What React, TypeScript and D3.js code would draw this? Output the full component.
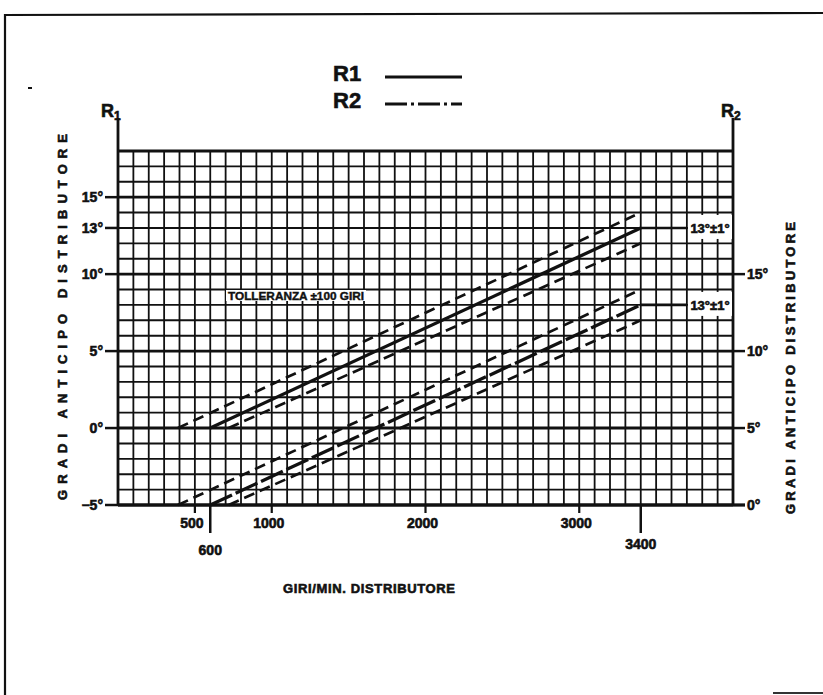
import React from "react";
import * as d3 from "d3";

// ---- data ----
const rpmTicks = [500, 1000, 2000, 3000];
const rpmLongTicks = [600, 3400];
const r1Ticks = [-5, 0, 5, 10, 13, 15];
const r2Ticks = [0, 5, 10, 15];
// R1 curves (degrees on R1 axis)
const r1Center: [number, number][] = [[600, 0], [3400, 13]];
const r1Upper: [number, number][] = [[390, 0], [3400, 14]];
const r1Lower: [number, number][] = [[720, 0], [3400, 12]];
const r1Leader: [number, number][] = [[3400, 13], [3700, 13]];
// R2 curves (degrees on R2 axis)
const r2Center: [number, number][] = [[600, 0], [3400, 13]];
const r2Upper: [number, number][] = [[390, 0], [3400, 14]];
const r2Lower: [number, number][] = [[720, 0], [3400, 12]];
const r2Leader: [number, number][] = [[3400, 13], [3700, 13]];
const r1Label = "13°±1°";
const r2Label = "13°±1°";

const FONT = "'Liberation Sans', Arial, sans-serif";
const INK = "#111";

export default function App() {
  const x = d3.scaleLinear().domain([0, 4000]).range([118, 733]);
  const y1 = d3.scaleLinear().domain([-5, 18]).range([505, 151]);
  const y2 = d3.scaleLinear().domain([0, 23]).range([505, 151]);

  const l1 = d3.line<[number, number]>().x(d => x(d[0])).y(d => y1(d[1]));
  const l2 = d3.line<[number, number]>().x(d => x(d[0])).y(d => y2(d[1]));

  const vLines = d3.range(0, 4001, 100);
  const hLines = d3.range(-5, 19, 1);

  const heavy = { stroke: INK, strokeWidth: 0.6, fill: INK } as const;

  return (
    <svg width={823} height={695} style={{ position: "absolute", left: 0, top: 0, background: "#fff" }}
      fontFamily={FONT}>
      <rect width={823} height={695} fill="#fff" />
      {/* frame */}
      <path d="M5,695 L5,15 L823,13" fill="none" stroke={INK} strokeWidth={2.2} />
      <line x1={773} y1={693} x2={823} y2={693} stroke="#333" strokeWidth={2} />
      <line x1={28} y1={88} x2={32} y2={88} stroke={INK} strokeWidth={2} />

      {/* legend */}
      <text x={333} y={81} fontSize={22} fontWeight="bold" {...heavy}>R1</text>
      <line x1={385} y1={77} x2={462} y2={77} stroke={INK} strokeWidth={3} />
      <text x={333} y={108} fontSize={22} fontWeight="bold" {...heavy}>R2</text>
      <line x1={385} y1={104} x2={462} y2={104} stroke={INK} strokeWidth={3} strokeDasharray="22,4,3,4" />

      {/* grid */}
      {vLines.map(v => (
        <line key={"v" + v} x1={x(v)} x2={x(v)} y1={y1(18)} y2={y1(-5)} stroke={INK}
          strokeWidth={1.8} />
      ))}
      {hLines.map(h => (
        <line key={"h" + h} x1={x(0)} x2={x(4000)} y1={y1(h)} y2={y1(h)} stroke={INK}
          strokeWidth={h % 5 === 0 || h === 18 ? 2.9 : 1.9} />
      ))}

      {/* axes */}
      <line x1={x(0)} x2={x(0)} y1={118} y2={y1(-5)} stroke={INK} strokeWidth={2.8} />
      <line x1={x(4000)} x2={x(4000)} y1={118} y2={y1(-5)} stroke={INK} strokeWidth={2.8} />
      <line x1={x(0)} x2={745} y1={y1(-5)} y2={y1(-5)} stroke={INK} strokeWidth={2.8} />

      {/* left ticks */}
      {r1Ticks.map(t => (
        <g key={"l" + t}>
          <line x1={105} x2={x(0)} y1={y1(t)} y2={y1(t)} stroke={INK} strokeWidth={2.5} />
          <text x={103} y={y1(t) + 5} textAnchor="end" fontSize={14} fontWeight="bold" {...heavy}>
            {t < 0 ? "−" + Math.abs(t) + "°" : t + "°"}
          </text>
        </g>
      ))}
      {/* right ticks */}
      {r2Ticks.map(t => (
        <g key={"r" + t}>
          <line x1={x(4000)} x2={745} y1={y2(t)} y2={y2(t)} stroke={INK} strokeWidth={2.5} />
          <text x={747} y={y2(t) + 5} textAnchor="start" fontSize={14} fontWeight="bold" {...heavy}>
            {t + "°"}
          </text>
        </g>
      ))}

      {/* bottom ticks */}
      {rpmTicks.map(t => (
        <g key={"b" + t}>
          <line x1={x(t)} x2={x(t)} y1={y1(-5)} y2={y1(-5) + 8} stroke={INK} strokeWidth={2.2} />
          <text x={x(t) - 3} y={y1(-5) + 23} textAnchor="middle" fontSize={14} fontWeight="bold" {...heavy}>{t}</text>
        </g>
      ))}
      {rpmLongTicks.map(t => (
        <g key={"bl" + t}>
          <line x1={x(t)} x2={x(t)} y1={y1(-5)} y2={y1(-5) + 28} stroke={INK} strokeWidth={2.5} />
          <text x={x(t)} y={y1(-5) + (t === 600 ? 50 : 44)} textAnchor="middle" fontSize={14} fontWeight="bold" {...heavy}>{t}</text>
        </g>
      ))}

      {/* curves R1 */}
      <path d={l1(r1Upper)!} fill="none" stroke={INK} strokeWidth={2.7} strokeDasharray="11,6" />
      <path d={l1(r1Lower)!} fill="none" stroke={INK} strokeWidth={2.7} strokeDasharray="11,6" />
      <path d={l1(r1Center)!} fill="none" stroke={INK} strokeWidth={3.3} />
      <path d={l1(r1Leader)!} fill="none" stroke={INK} strokeWidth={2.6} />
      {/* curves R2 */}
      <path d={l2(r2Upper)!} fill="none" stroke={INK} strokeWidth={2.7} strokeDasharray="11,6" />
      <path d={l2(r2Lower)!} fill="none" stroke={INK} strokeWidth={2.7} strokeDasharray="11,6" />
      <path d={l2(r2Center)!} fill="none" stroke={INK} strokeWidth={3.3} strokeDasharray="24,4" />
      <path d={l2(r2Leader)!} fill="none" stroke={INK} strokeWidth={2.6} />

      {/* value labels */}
      <rect x={688} y={y1(13) - 13} width={44} height={24} fill="#fff" />
      <text x={710} y={y1(13) + 5} textAnchor="middle" fontSize={13} fontWeight="bold" {...heavy}>{r1Label}</text>
      <rect x={688} y={y2(13) - 13} width={44} height={24} fill="#fff" />
      <text x={710} y={y2(13) + 5} textAnchor="middle" fontSize={13} fontWeight="bold" {...heavy}>{r2Label}</text>

      {/* tolerance note */}
      <rect x={226} y={290} width={140} height={11} fill="#fff" />
      <text x={228} y={300} fontSize={11} fontWeight="bold" {...heavy} strokeWidth={0.4} textLength={136} lengthAdjust="spacingAndGlyphs">TOLLERANZA ±100 GIRI</text>

      {/* axis labels top */}
      <text x={101} y={117} fontSize={18} fontWeight="bold" {...heavy}>R<tspan fontSize={12} dy={3}>1</tspan></text>
      <text x={721} y={117} fontSize={18} fontWeight="bold" {...heavy}>R<tspan fontSize={12} dy={3}>2</tspan></text>

      {/* axis titles */}
      <text transform="translate(67,317) rotate(-90)" textAnchor="middle" fontSize={13} fontWeight="bold" {...heavy}
        textLength={366} lengthAdjust="spacing">GRADI ANTICIPO DISTRIBUTORE</text>
      <text transform="translate(795,368) rotate(-90)" textAnchor="middle" fontSize={13} fontWeight="bold" {...heavy}
        textLength={292} lengthAdjust="spacing">GRADI ANTICIPO DISTRIBUTORE</text>
      <text x={369} y={593} textAnchor="middle" fontSize={13} fontWeight="bold" {...heavy}
        textLength={172} lengthAdjust="spacing">GIRI/MIN. DISTRIBUTORE</text>
    </svg>
  );
}
